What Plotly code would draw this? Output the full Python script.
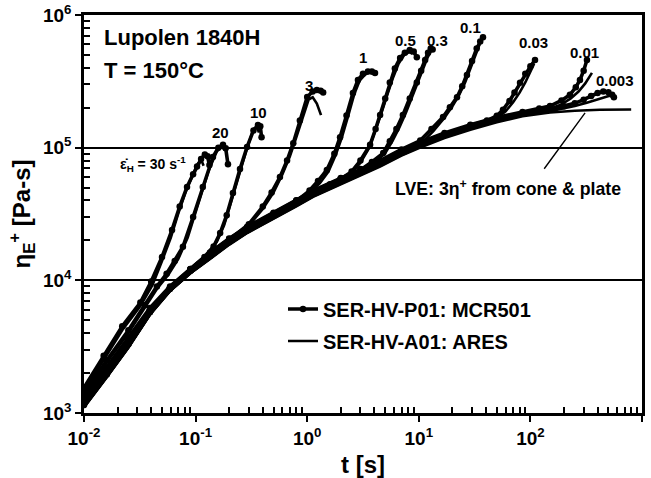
import plotly.graph_objects as go

# ---------------- data: transient extensional viscosity, Lupolen 1840H, 150 °C ----------------
# linear viscoelastic envelope (3 x shear start-up viscosity, cone & plate)
t_lve = [0.01, 0.016, 0.025, 0.039, 0.059, 0.09, 0.135, 0.2, 0.29, 0.5, 0.8, 1.13, 2.0, 3.0,
         4.5, 7.0, 10.3, 17, 29, 50, 85, 150, 250, 420, 800]
eta_lve = [1.1e3, 1.85e3, 3.1e3, 5.5e3, 8.3e3, 1.13e4, 1.45e4, 1.85e4, 2.27e4, 2.9e4, 3.6e4,
           4.25e4, 5.3e4, 6.2e4, 7.2e4, 8.7e4, 1.0e5, 1.18e5, 1.36e5, 1.55e5, 1.72e5, 1.84e5,
           1.9e5, 1.93e5, 1.94e5]

# Hencky strain rate 30 1/s
t_30_mcr = [0.01, 0.015, 0.022, 0.032, 0.04, 0.05, 0.0615, 0.072, 0.0838, 0.095, 0.103, 0.112,
            0.121, 0.128, 0.133]
eta_30_mcr = [1.55e3, 2.7e3, 4.5e3, 6.8e3, 9.8e3, 1.5e4, 2.4e4, 3.6e4, 5.06e4, 6.3e4, 7.2e4,
              8.2e4, 8.9e4, 8.6e4, 7.4e4]
t_30_ares = [0.01, 0.015, 0.022, 0.032, 0.041, 0.05, 0.06, 0.07, 0.082, 0.094, 0.105, 0.113, 0.118]
eta_30_ares = [1.45e3, 2.5e3, 4.2e3, 6.4e3, 9.2e3, 1.4e4, 2.1e4, 3.2e4, 4.7e4, 6.2e4, 7.6e4,
               8.0e4, 7.3e4]

# 20 1/s
t_20_mcr = [0.01, 0.016, 0.025, 0.035, 0.045, 0.055, 0.065, 0.077, 0.095, 0.116, 0.143, 0.16,
            0.176, 0.186, 0.195]
eta_20_mcr = [1.4e3, 2.5e3, 4.2e3, 6.5e3, 9.0e3, 1.12e4, 1.4e4, 1.79e4, 3.0e4, 5.06e4, 8.5e4,
              1.0e5, 1.05e5, 9.9e4, 7.5e4]
t_20_ares = [0.01, 0.016, 0.025, 0.035, 0.045, 0.057, 0.07, 0.085, 0.105, 0.13, 0.155, 0.172, 0.182]
eta_20_ares = [1.35e3, 2.4e3, 4.0e3, 6.2e3, 8.6e3, 1.1e4, 1.45e4, 2.1e4, 3.7e4, 6.6e4, 9.4e4,
               1.02e5, 9.6e4]

# 10 1/s
t_10_mcr = [0.01, 0.016, 0.025, 0.039, 0.059, 0.09, 0.12, 0.145, 0.166, 0.19, 0.216, 0.25, 0.289,
            0.33, 0.362, 0.38, 0.39]
eta_10_mcr = [1.3e3, 2.2e3, 3.7e3, 6.2e3, 9.0e3, 1.22e4, 1.5e4, 1.8e4, 2.27e4, 3.1e4, 4.56e4,
              6.9e4, 1.01e5, 1.35e5, 1.48e5, 1.45e5, 1.2e5]
t_10_ares = [0.01, 0.016, 0.025, 0.039, 0.059, 0.09, 0.125, 0.155, 0.18, 0.21, 0.25, 0.29, 0.33,
             0.355, 0.37]
eta_10_ares = [1.25e3, 2.1e3, 3.6e3, 6.0e3, 8.8e3, 1.2e4, 1.55e4, 1.95e4, 2.6e4, 4.0e4, 6.6e4,
               1.0e5, 1.38e5, 1.42e5, 1.3e5]

# 3 1/s
t_3_mcr = [0.01, 0.016, 0.025, 0.039, 0.059, 0.09, 0.135, 0.2, 0.3, 0.4, 0.48, 0.57, 0.66, 0.75,
           0.86, 1.0, 1.12, 1.22, 1.32, 1.39]
eta_3_mcr = [1.2e3, 2.05e3, 3.5e3, 6.0e3, 8.8e3, 1.2e4, 1.56e4, 2.02e4, 2.65e4, 3.6e4, 4.6e4,
             6.0e4, 8.0e4, 1.08e5, 1.6e5, 2.41e5, 2.65e5, 2.72e5, 2.68e5, 2.6e5]
t_3_ares = [0.01, 0.016, 0.025, 0.039, 0.059, 0.09, 0.135, 0.2, 0.3, 0.4, 0.5, 0.6, 0.7, 0.8,
            0.92, 1.03, 1.12, 1.22, 1.33]
eta_3_ares = [1.15e3, 1.95e3, 3.35e3, 5.8e3, 8.6e3, 1.17e4, 1.52e4, 1.96e4, 2.58e4, 3.45e4, 4.6e4,
              6.3e4, 8.6e4, 1.2e5, 1.75e5, 2.3e5, 2.4e5, 2.15e5, 1.76e5]

# 1 1/s
t_1_mcr = [0.01, 0.016, 0.025, 0.039, 0.059, 0.09, 0.135, 0.2, 0.29, 0.5, 0.8, 1.05, 1.25, 1.5,
           1.75, 1.97, 2.25, 2.57, 2.85, 3.16, 3.5, 3.8, 4.05]
eta_1_mcr = [1.2e3, 2.0e3, 3.4e3, 5.9e3, 8.7e3, 1.19e4, 1.55e4, 1.98e4, 2.43e4, 3.12e4, 3.95e4,
             4.75e4, 5.6e4, 6.8e4, 9.0e4, 1.2e5, 1.75e5, 2.58e5, 3.24e5, 3.6e5, 3.75e5, 3.75e5,
             3.65e5]
t_1_ares = [0.01, 0.016, 0.025, 0.039, 0.059, 0.09, 0.135, 0.2, 0.29, 0.5, 0.8, 1.05, 1.3, 1.55,
            1.8, 2.05, 2.35, 2.65, 2.95, 3.3, 3.6, 3.9]
eta_1_ares = [1.15e3, 1.95e3, 3.3e3, 5.7e3, 8.5e3, 1.16e4, 1.5e4, 1.92e4, 2.36e4, 3.02e4, 3.8e4,
              4.55e4, 5.4e4, 6.6e4, 8.8e4, 1.2e5, 1.78e5, 2.55e5, 3.2e5, 3.55e5, 3.68e5, 3.6e5]

# 0.5 1/s
t_05_mcr = [0.01, 0.016, 0.025, 0.039, 0.059, 0.09, 0.135, 0.2, 0.29, 0.5, 0.8, 1.13, 1.6, 2.0,
            2.5, 3.0, 3.66, 4.1, 4.5, 5.0, 5.5, 6.1, 6.8, 7.5, 8.3, 9.0, 9.6]
eta_05_mcr = [1.2e3, 2.0e3, 3.4e3, 5.9e3, 8.7e3, 1.2e4, 1.58e4, 2.02e4, 2.47e4, 3.15e4, 3.92e4,
              4.6e4, 5.3e4, 5.8e4, 6.6e4, 8.0e4, 1.05e5, 1.38e5, 1.76e5, 2.35e5, 3.1e5, 3.95e5,
              4.74e5, 5.2e5, 5.45e5, 5.3e5, 4.8e5]
t_05_ares = [0.01, 0.016, 0.025, 0.039, 0.059, 0.09, 0.135, 0.2, 0.29, 0.5, 0.8, 1.13, 1.6, 2.0,
             2.5, 3.0, 3.6, 4.2, 4.7, 5.3, 5.9, 6.6, 7.4, 8.2, 8.8]
eta_05_ares = [1.15e3, 1.9e3, 3.25e3, 5.7e3, 8.5e3, 1.16e4, 1.5e4, 1.92e4, 2.36e4, 3.0e4, 3.75e4,
               4.42e4, 5.1e4, 5.6e4, 6.45e4, 7.7e4, 1.0e5, 1.42e5, 1.9e5, 2.6e5, 3.4e5, 4.3e5,
               5.0e5, 5.25e5, 5.1e5]

# 0.3 1/s
t_03_mcr = [0.01, 0.016, 0.025, 0.039, 0.059, 0.09, 0.135, 0.2, 0.29, 0.5, 0.8, 1.13, 2.0, 3.0,
            3.8, 4.8, 5.5, 6.3, 7.2, 8.3, 9.6, 10.5, 11.4, 12.1, 12.8, 13.3]
eta_03_mcr = [1.2e3, 2.0e3, 3.4e3, 5.9e3, 8.7e3, 1.2e4, 1.6e4, 2.05e4, 2.5e4, 3.2e4, 4.0e4,
              4.7e4, 5.85e4, 6.8e4, 7.8e4, 9.1e4, 1.12e5, 1.38e5, 1.76e5, 2.35e5, 3.1e5, 3.8e5,
              4.58e5, 5.2e5, 5.6e5, 5.5e5]
t_03_ares = [0.01, 0.016, 0.025, 0.039, 0.059, 0.09, 0.135, 0.2, 0.29, 0.5, 0.8, 1.13, 2.0, 3.0,
             3.9, 5.0, 5.8, 6.7, 7.7, 8.8, 10.0, 11.0, 12.0, 12.8]
eta_03_ares = [1.15e3, 1.9e3, 3.25e3, 5.7e3, 8.5e3, 1.16e4, 1.5e4, 1.92e4, 2.36e4, 3.0e4, 3.75e4,
               4.42e4, 5.5e4, 6.45e4, 7.5e4, 9.1e4, 1.12e5, 1.42e5, 1.85e5, 2.45e5, 3.25e5, 4.0e5,
               4.8e5, 5.3e5]

# 0.1 1/s
t_01_mcr = [0.01, 0.016, 0.025, 0.039, 0.059, 0.09, 0.135, 0.2, 0.29, 0.5, 0.8, 1.13, 2.0, 3.0,
            4.5, 7.0, 10.3, 13, 16.5, 19, 22, 24.5, 27, 30, 33, 35.5, 37.6]
eta_01_mcr = [1.2e3, 2.0e3, 3.4e3, 5.9e3, 8.8e3, 1.22e4, 1.62e4, 2.07e4, 2.53e4, 3.23e4, 4.02e4,
              4.75e4, 5.9e4, 6.9e4, 8.0e4, 9.7e4, 1.13e5, 1.38e5, 1.7e5, 2.02e5, 2.4e5, 2.9e5,
              3.53e5, 4.5e5, 5.6e5, 6.3e5, 6.8e5]
t_01_ares = [0.01, 0.016, 0.025, 0.039, 0.059, 0.09, 0.135, 0.2, 0.29, 0.5, 0.8, 1.13, 2.0, 3.0,
             4.5, 7.0, 10.3, 13.5, 17, 20, 23, 26, 29, 32, 35]
eta_01_ares = [1.12e3, 1.9e3, 3.2e3, 5.6e3, 8.4e3, 1.15e4, 1.48e4, 1.89e4, 2.32e4, 2.96e4, 3.7e4,
               4.36e4, 5.45e4, 6.4e4, 7.45e4, 9.0e4, 1.06e5, 1.33e5, 1.68e5, 2.05e5, 2.5e5,
               3.1e5, 3.9e5, 4.9e5, 6.0e5]

# 0.03 1/s
t_003_mcr = [0.01, 0.016, 0.025, 0.039, 0.059, 0.09, 0.135, 0.2, 0.29, 0.5, 0.8, 1.13, 2.0, 3.0,
             4.5, 7.0, 10.3, 17, 29, 40.8, 50, 56.8, 65, 72, 80.7, 90, 100, 110]
eta_003_mcr = [1.18e3, 1.98e3, 3.35e3, 5.8e3, 8.7e3, 1.2e4, 1.57e4, 2.0e4, 2.45e4, 3.13e4,
               3.9e4, 4.6e4, 5.75e4, 6.7e4, 7.8e4, 9.4e4, 1.09e5, 1.27e5, 1.47e5, 1.6e5, 1.74e5,
               1.93e5, 2.25e5, 2.6e5, 3.08e5, 3.6e5, 4.1e5, 4.58e5]
t_003_ares = [0.01, 0.016, 0.025, 0.039, 0.059, 0.09, 0.135, 0.2, 0.29, 0.5, 0.8, 1.13, 2.0, 3.0,
              4.5, 7.0, 10.3, 17, 29, 40, 50, 60, 70, 80, 90, 100, 108]
eta_003_ares = [1.12e3, 1.88e3, 3.15e3, 5.55e3, 8.35e3, 1.14e4, 1.47e4, 1.88e4, 2.3e4, 2.95e4,
                3.66e4, 4.32e4, 5.4e4, 6.3e4, 7.35e4, 8.9e4, 1.03e5, 1.21e5, 1.4e5, 1.54e5,
                1.67e5, 1.88e5, 2.2e5, 2.6e5, 3.1e5, 3.7e5, 4.3e5]

# 0.01 1/s
t_001_mcr = [0.01, 0.016, 0.025, 0.039, 0.059, 0.09, 0.135, 0.2, 0.29, 0.5, 0.8, 1.13, 2.0, 3.0,
             4.5, 7.0, 10.3, 17, 29, 50, 85, 120, 150, 190, 226, 255, 278, 300, 321]
eta_001_mcr = [1.2e3, 2.0e3, 3.4e3, 5.9e3, 8.8e3, 1.21e4, 1.6e4, 2.04e4, 2.5e4, 3.18e4, 3.95e4,
               4.65e4, 5.8e4, 6.8e4, 7.9e4, 9.55e4, 1.1e5, 1.29e5, 1.49e5, 1.69e5, 1.86e5,
               1.97e5, 2.06e5, 2.27e5, 2.5e5, 2.85e5, 3.24e5, 3.8e5, 4.58e5]
t_001_ares = [0.01, 0.016, 0.025, 0.039, 0.059, 0.09, 0.135, 0.2, 0.29, 0.5, 0.8, 1.13, 2.0, 3.0,
              4.5, 7.0, 10.3, 17, 29, 50, 85, 120, 150, 190, 230, 270, 310, 340, 356]
eta_001_ares = [1.12e3, 1.88e3, 3.15e3, 5.55e3, 8.35e3, 1.14e4, 1.47e4, 1.88e4, 2.3e4, 2.95e4,
                3.66e4, 4.32e4, 5.4e4, 6.3e4, 7.35e4, 8.9e4, 1.03e5, 1.21e5, 1.4e5, 1.59e5,
                1.76e5, 1.88e5, 1.97e5, 2.12e5, 2.35e5, 2.65e5, 3.05e5, 3.45e5, 3.66e5]

# 0.003 1/s
t_0003_mcr = [0.01, 0.016, 0.025, 0.039, 0.059, 0.09, 0.135, 0.2, 0.29, 0.5, 0.8, 1.13, 2.0, 3.0,
              4.5, 7.0, 10.3, 17, 29, 50, 85, 150, 200, 250, 300, 350, 400, 450, 500, 540, 560]
eta_0003_mcr = [1.15e3, 1.95e3, 3.3e3, 5.75e3, 8.6e3, 1.18e4, 1.53e4, 1.96e4, 2.4e4, 3.07e4,
                3.82e4, 4.5e4, 5.62e4, 6.6e4, 7.7e4, 9.3e4, 1.07e5, 1.25e5, 1.45e5, 1.65e5,
                1.82e5, 1.95e5, 2.05e5, 2.16e5, 2.3e5, 2.45e5, 2.58e5, 2.65e5, 2.62e5, 2.5e5,
                2.4e5]
t_0003_ares = [0.01, 0.016, 0.025, 0.039, 0.059, 0.09, 0.135, 0.2, 0.29, 0.5, 0.8, 1.13, 2.0, 3.0,
               4.5, 7.0, 10.3, 17, 29, 50, 85, 150, 200, 250, 320, 400, 480, 530]
eta_0003_ares = [1.1e3, 1.86e3, 3.12e3, 5.5e3, 8.3e3, 1.13e4, 1.46e4, 1.87e4, 2.29e4, 2.93e4,
                 3.64e4, 4.3e4, 5.37e4, 6.27e4, 7.3e4, 8.8e4, 1.02e5, 1.2e5, 1.39e5, 1.58e5,
                 1.75e5, 1.88e5, 1.97e5, 2.06e5, 2.18e5, 2.3e5, 2.4e5, 2.48e5]

mcr_runs = [(t_30_mcr, eta_30_mcr), (t_20_mcr, eta_20_mcr), (t_10_mcr, eta_10_mcr),
            (t_3_mcr, eta_3_mcr), (t_1_mcr, eta_1_mcr), (t_05_mcr, eta_05_mcr),
            (t_03_mcr, eta_03_mcr), (t_01_mcr, eta_01_mcr), (t_003_mcr, eta_003_mcr),
            (t_001_mcr, eta_001_mcr), (t_0003_mcr, eta_0003_mcr)]
ares_runs = [(t_30_ares, eta_30_ares), (t_20_ares, eta_20_ares), (t_10_ares, eta_10_ares),
             (t_3_ares, eta_3_ares), (t_1_ares, eta_1_ares), (t_05_ares, eta_05_ares),
             (t_03_ares, eta_03_ares), (t_01_ares, eta_01_ares), (t_003_ares, eta_003_ares),
             (t_001_ares, eta_001_ares), (t_0003_ares, eta_0003_ares)]

x_tick_vals = [1e-2, 1e-1, 1e0, 1e1, 1e2, 1e3]
x_tick_text = ["10<sup>-2</sup>", "10<sup>-1</sup>", "10<sup>0</sup>", "10<sup>1</sup>",
               "10<sup>2</sup>", "10<sup>3</sup>"]
y_tick_vals = [1e3, 1e4, 1e5, 1e6]
y_tick_text = ["10<sup>3</sup>", "10<sup>4</sup>", "10<sup>5</sup>", "10<sup>6</sup>"]

# strain-rate labels and their positions (pixel coordinates in the page)
rate_labels = ["20", "10", "3", "1", "0.5", "0.3", "0.1", "0.03", "0.01", "0.003"]
rate_label_px = [(220, 132), (258, 112), (309, 85), (363, 58), (405, 40), (437, 40),
                 (470, 28), (533, 42), (584, 53), (615, 80)]

# ---------------- figure ----------------
W, H = 651, 478
ML, MR, MT, MB = 84, 9, 15, 65
PW, PH = W - ML - MR, H - MT - MB
FONT = "Liberation Sans, Arial, Helvetica, sans-serif"


def at(px, py):
    """Paper coordinates of a pixel position on the page."""
    return (px - ML) / PW, (H - MB - py) / PH


def label(text, px, py, size, xanchor="center"):
    x, y = at(px, py)
    return dict(x=x, y=y, xref="paper", yref="paper", text=text, showarrow=False,
                xanchor=xanchor, yanchor="middle",
                font=dict(family=FONT, size=size, color="black", weight="bold"))


fig = go.Figure()

fig.add_trace(go.Scatter(x=t_lve, y=eta_lve, mode="lines", showlegend=False,
                         line=dict(color="black", width=2.4)))

for i, (t, eta) in enumerate(ares_runs):
    fig.add_trace(go.Scatter(
        x=t, y=eta, mode="lines", name="SER-HV-A01: ARES",
        showlegend=(i == 0), legend="legend2",
        line=dict(color="black", width=2.6)))

for i, (t, eta) in enumerate(mcr_runs):
    fig.add_trace(go.Scatter(
        x=t, y=eta, mode="lines+markers", name="SER-HV-P01: MCR501",
        showlegend=(i == 0), legend="legend",
        line=dict(color="black", width=3.6),
        marker=dict(symbol="circle", size=6.5, color="black")))

axis_common = dict(
    type="log", showline=True, linecolor="black", linewidth=2.5, mirror=True,
    ticks="outside", ticklen=6, tickwidth=2, tickcolor="black",
    tickfont=dict(family=FONT, size=19, color="black", weight="bold"),
    tickmode="array", zeroline=False, automargin=False,
)

fig.update_xaxes(
    **axis_common, range=[-2, 3], showgrid=False,
    tickvals=x_tick_vals, ticktext=x_tick_text,
    minor=dict(ticks="inside", ticklen=6, tickwidth=1.5, tickcolor="black", showgrid=False,
               tickmode="array",
               tickvals=[m * 10.0 ** k for k in range(-2, 3) for m in range(2, 10)]),
    title=dict(text="t [s]", font=dict(family=FONT, size=24, color="black", weight="bold"),
               standoff=9),
)
fig.update_yaxes(
    **axis_common, range=[3, 6], showgrid=True, gridcolor="black", gridwidth=1.6,
    tickvals=y_tick_vals, ticktext=y_tick_text,
    minor=dict(ticks="inside", ticklen=6, tickwidth=1.5, tickcolor="black", showgrid=False,
               tickmode="array",
               tickvals=[m * 10.0 ** k for k in range(3, 6) for m in range(2, 10)]),
    title=dict(text="η<sub>E</sub><sup>+</sup> [Pa-s]",
               font=dict(family=FONT, size=24, color="black", weight="bold"), standoff=6),
)

annotations = [label(txt, px, py, 15) for txt, (px, py) in zip(rate_labels, rate_label_px)]
annotations.append(label("ε̇<sub>H</sub> = 30 s<sup>-1</sup>", 153, 164, 14))
annotations.append(label("Lupolen 1840H", 102, 37, 22, xanchor="left"))
annotations.append(label("T = 150°C", 102, 70, 22, xanchor="left"))
annotations.append(label("LVE: 3η<sup>+</sup> from cone & plate", 508, 188, 17.7))

# pointer from the LVE label to the linear viscoelastic envelope
annotations.append(dict(x=2.49, y=5.262, xref="x", yref="y", ax=2.114, ay=4.83,
                        axref="x", ayref="y", text="", showarrow=True, arrowhead=0,
                        arrowwidth=1.4, arrowcolor="black"))

lx, ly1 = at(283, 309)
_, ly2 = at(283, 341)
legend_font = dict(family=FONT, size=20, color="black", weight="bold")
fig.update_layout(
    width=W, height=H, margin=dict(l=ML, r=MR, t=MT, b=MB, autoexpand=False),
    paper_bgcolor="white", plot_bgcolor="white",
    font=dict(family=FONT, color="black"),
    annotations=annotations,
    legend=dict(x=lx, y=ly1, xanchor="left", yanchor="middle", bgcolor="rgba(0,0,0,0)",
                font=legend_font, borderwidth=0, itemwidth=30),
    legend2=dict(x=lx, y=ly2, xanchor="left", yanchor="middle", bgcolor="rgba(0,0,0,0)",
                 font=legend_font, borderwidth=0, itemwidth=30),
)

fig.write_html("out.html")
